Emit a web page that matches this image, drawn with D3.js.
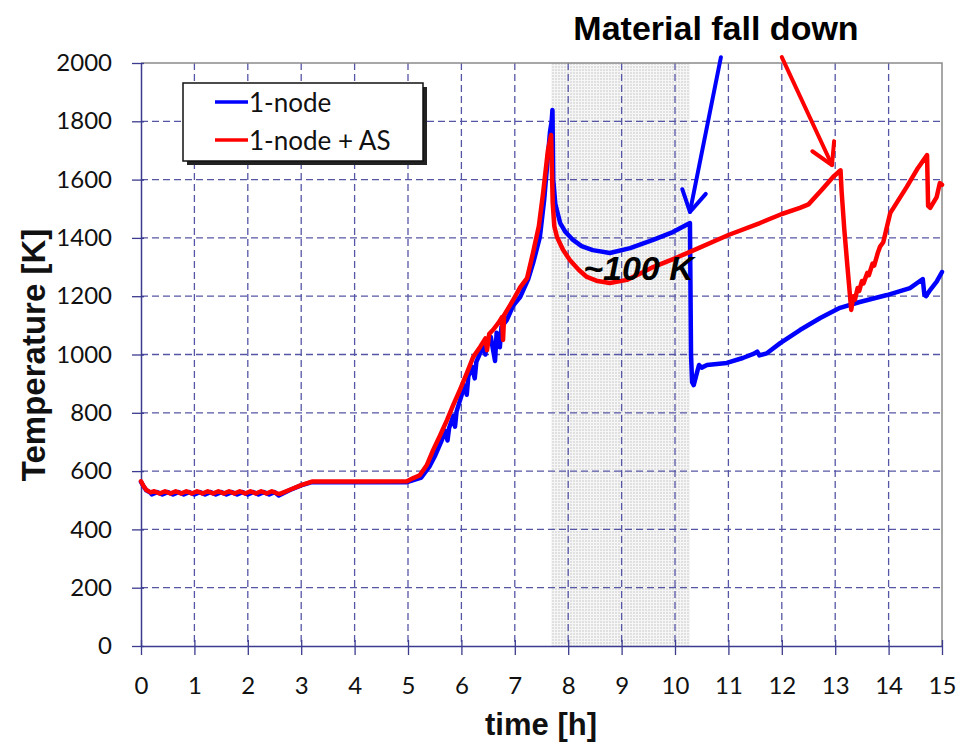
<!DOCTYPE html>
<html>
<head>
<meta charset="utf-8">
<script src="https://cdn.jsdelivr.net/npm/d3@7"></script>
<style>
  html, body { margin: 0; padding: 0; background: #fff; }
  svg { display: block; }
</style>
</head>
<body>
<svg id="chart" width="966" height="747"></svg>
<script>
// ---- data: time [h] / temperature [K] ----
const xTicks = [0,1,2,3,4,5,6,7,8,9,10,11,12,13,14,15];
const yTicks = [0,200,400,600,800,1000,1200,1400,1600,1800,2000];

// relocation window (shaded band), hours
const bandRange = [7.68, 10.28];

// 1-node
const blueSeries = [
  [0,563],[0.05,547],[0.1,534],[0.18,526],
  [0.2,520],[0.3,528],[0.4,520],[0.5,528],[0.6,520],[0.7,528],[0.8,520],[0.9,528],
  [1.0,520],[1.1,528],[1.2,520],[1.3,528],[1.4,520],[1.5,528],[1.6,520],[1.7,528],
  [1.8,520],[1.9,528],[2.0,520],[2.1,528],[2.2,520],[2.3,528],[2.4,520],[2.5,528],
  [2.58,516],[2.8,536],[3.0,551],[3.2,562],[4.0,562],[4.98,562],
  [5.1,569],[5.25,578],[5.4,615],[5.5,650],[5.62,700],[5.7,738],[5.74,705],[5.77,748],
  [5.85,790],[5.88,752],[5.91,805],[6.0,858],[6.05,895],[6.1,862],[6.13,925],[6.2,958],
  [6.25,918],[6.28,975],[6.35,1005],[6.4,1028],[6.45,1000],[6.48,1045],[6.55,1060],
  [6.63,978],[6.66,1075],[6.72,1025],[6.75,1095],[6.85,1118],[6.97,1168],[7.1,1197],
  [7.25,1258],[7.35,1318],[7.47,1403],[7.55,1530],[7.62,1680],[7.66,1765],[7.69,1800],
  [7.705,1839],[7.72,1600],[7.76,1515],[7.85,1451],[7.95,1420],[8.09,1393],[8.25,1372],
  [8.46,1358],[8.78,1348],[9.16,1365],[9.59,1393],[9.96,1420],[10.28,1451],
  [10.3,1000],[10.32,905],[10.35,895],[10.4,930],[10.45,964],[10.5,955],[10.6,964],
  [10.97,971],[11.27,988],[11.48,1003],[11.54,1010],[11.58,997],[11.72,1004],
  [11.97,1039],[12.34,1084],[12.72,1125],[13.09,1160],[13.46,1180],[13.97,1204],
  [14.4,1228],[14.64,1259],[14.67,1205],[14.7,1200],[14.78,1222],[14.9,1250],[15,1283]
];

// 1-node + AS
const redSeries = [
  [0,565],[0.05,548],[0.1,535],[0.18,527],
  [0.25,531],[0.35,523],[0.45,531],[0.55,523],[0.65,531],[0.75,523],[0.85,531],[0.95,523],
  [1.05,531],[1.15,523],[1.25,531],[1.35,523],[1.45,531],[1.55,523],[1.65,531],[1.75,523],
  [1.85,531],[1.95,523],[2.05,531],[2.15,523],[2.25,531],[2.35,523],[2.45,531],[2.55,523],
  [2.6,522],[2.8,537],[3.0,552],[3.2,564],[4.0,564],[4.98,565],
  [5.1,576],[5.22,586],[5.35,620],[5.47,672],[5.6,722],[5.73,775],[5.85,828],[5.97,878],
  [6.1,935],[6.22,991],[6.35,1026],[6.45,1055],[6.48,1015],[6.52,1070],[6.59,1084],
  [6.7,1110],[6.76,1128],[6.78,1050],[6.8,1135],[6.97,1187],[7.1,1230],[7.23,1262],
  [7.34,1348],[7.45,1440],[7.53,1554],[7.62,1700],[7.68,1753],[7.71,1520],[7.74,1440],
  [7.79,1403],[7.9,1360],[8.03,1324],[8.2,1290],[8.35,1266],[8.55,1252],[8.78,1245],
  [9.1,1256],[9.35,1278],[9.59,1300],[10.0,1330],[10.28,1352],[11.0,1410],[11.59,1451],
  [12.0,1482],[12.34,1503],[12.5,1515],[12.75,1565],[12.96,1609],[13.1,1632],
  [13.12,1560],[13.17,1430],[13.23,1300],[13.3,1153],[13.34,1200],[13.37,1188],
  [13.42,1228],[13.45,1218],[13.5,1252],[13.53,1244],[13.6,1280],[13.63,1272],
  [13.7,1312],[13.73,1305],[13.8,1350],[13.84,1370],[13.9,1385],[14.03,1485],
  [14.34,1575],[14.55,1640],[14.72,1684],[14.74,1510],[14.78,1503],[14.9,1540],
  [14.96,1588],[15,1582]
];

const legendLabels = ["1-node", "1-node + AS"];
const seriesColors = ["#0000ff", "#ff0000"];

// ---- layout ----
const svg = d3.select("#chart");
const plot = { left: 141, right: 942, top: 63, bottom: 646 };

const x = d3.scaleLinear().domain([0, 15]).range([plot.left, plot.right]);
const y = d3.scaleLinear().domain([0, 2000]).range([plot.bottom, plot.top]);

const axisColor = "#3b3b8f";
const gridColor = "#5656a6";

// shaded band pattern (fine dotted grey)
const defs = svg.append("defs");
const pat = defs.append("pattern")
  .attr("id", "dots").attr("width", 3).attr("height", 3)
  .attr("patternUnits", "userSpaceOnUse");
pat.append("rect").attr("width", 3).attr("height", 3).attr("fill", "#f6f6f6");
pat.append("rect").attr("width", 2).attr("height", 2).attr("fill", "#e0e0e0");

svg.append("rect")
  .attr("x", x(bandRange[0])).attr("y", plot.top)
  .attr("width", x(bandRange[1]) - x(bandRange[0]))
  .attr("height", plot.bottom - plot.top)
  .attr("fill", "url(#dots)");

// dashed grid
const grid = svg.append("g").attr("stroke", gridColor).attr("stroke-width", 1.3)
  .attr("stroke-dasharray", "7,4");
grid.selectAll("line.h").data(yTicks.filter(d => d > 0 && d < 2000)).join("line")
  .attr("x1", plot.left).attr("x2", plot.right)
  .attr("y1", d => y(d)).attr("y2", d => y(d));
grid.selectAll("line.v").data(xTicks.filter(d => d > 0 && d < 15)).join("line")
  .attr("y1", plot.top).attr("y2", plot.bottom)
  .attr("x1", d => x(d)).attr("x2", d => x(d));

// frame (top / right)
svg.append("path")
  .attr("d", `M${plot.left},${plot.top}H${plot.right}V${plot.bottom}`)
  .attr("fill", "none").attr("stroke", "#8a8a8a").attr("stroke-width", 1.5);

// axes
const tickFont = "Lato, 'Open Sans', sans-serif";
const xAxis = svg.append("g").attr("transform", `translate(0,${plot.bottom})`)
  .call(d3.axisBottom(x).tickValues(xTicks).tickFormat(d3.format("d"))
    .tickSize(9).tickSizeOuter(0).tickPadding(22));
const yAxis = svg.append("g").attr("transform", `translate(${plot.left},0)`)
  .call(d3.axisLeft(y).tickValues(yTicks).tickFormat(d3.format("d"))
    .tickSize(9).tickSizeOuter(0).tickPadding(20));

[xAxis, yAxis].forEach(g => {
  g.select(".domain").attr("stroke", axisColor).attr("stroke-width", 1.5);
  g.selectAll(".tick line").attr("stroke", axisColor).attr("stroke-width", 1.3);
  g.selectAll(".tick text").attr("fill", "#111").attr("font-family", tickFont)
    .attr("font-size", 24);
});
xAxis.selectAll(".tick line").attr("y1", -6);
yAxis.selectAll(".tick line").attr("x1", 3);

// series lines
const line = d3.line().x(d => x(d[0])).y(d => y(d[1]));
[blueSeries, redSeries].forEach((s, i) => {
  svg.append("path").datum(s)
    .attr("d", line)
    .attr("fill", "none")
    .attr("stroke", seriesColors[i])
    .attr("stroke-width", 4.5)
    .attr("stroke-linejoin", "round")
    .attr("stroke-linecap", "round");
});

// axis titles
const boldFont = "'Liberation Sans', Arial, sans-serif";
svg.append("text")
  .attr("x", 541).attr("y", 735)
  .attr("text-anchor", "middle")
  .attr("font-family", boldFont).attr("font-weight", "bold").attr("font-size", 31)
  .attr("fill", "#111")
  .text("time [h]");
svg.append("text")
  .attr("transform", "translate(45,355) rotate(-90)")
  .attr("text-anchor", "middle")
  .attr("font-family", boldFont).attr("font-weight", "bold").attr("font-size", 33)
  .attr("fill", "#111")
  .text("Temperature [K]");

// legend with drop shadow
const lg = svg.append("g");
lg.append("rect").attr("x", 187).attr("y", 87).attr("width", 240).attr("height", 78)
  .attr("fill", "#222");
lg.append("rect").attr("x", 183).attr("y", 83).attr("width", 240).attr("height", 78)
  .attr("fill", "#fff").attr("stroke", "#111").attr("stroke-width", 1.5);
legendLabels.forEach((lab, i) => {
  const yy = 102 + i * 38;
  lg.append("line").attr("x1", 215).attr("x2", 248).attr("y1", yy).attr("y2", yy)
    .attr("stroke", seriesColors[i]).attr("stroke-width", 3.5);
  lg.append("text").attr("x", 249).attr("y", yy + 10)
    .attr("font-family", tickFont).attr("font-size", 26).attr("fill", "#111")
    .text(lab);
});

// annotations
svg.append("text")
  .attr("x", 716).attr("y", 40)
  .attr("text-anchor", "middle")
  .attr("font-family", boldFont).attr("font-weight", "bold").attr("font-size", 34)
  .attr("fill", "#000")
  .text("Material fall down");

svg.append("text")
  .attr("x", x(8.28)).attr("y", y(1256))
  .attr("font-family", boldFont).attr("font-weight", "bold").attr("font-style", "italic")
  .attr("font-size", 34).attr("fill", "#000")
  .text("~100 K");

// arrows: [start, tip] in data units
const arrows = [
  { from: [10.86, 2020], to: [10.28, 1489], color: "#0000ff" },
  { from: [12.0, 2020], to: [12.94, 1650], color: "#ff0000" }
];
arrows.forEach(a => {
  const x0 = x(a.from[0]), y0 = y(a.from[1]);
  const x1 = x(a.to[0]), y1 = y(a.to[1]);
  const ang = Math.atan2(y0 - y1, x0 - x1);
  const L = 24, spread = Math.PI / 6;
  const p1 = [x1 + L * Math.cos(ang - spread), y1 + L * Math.sin(ang - spread)];
  const p2 = [x1 + L * Math.cos(ang + spread), y1 + L * Math.sin(ang + spread)];
  const g = svg.append("g").attr("stroke", a.color).attr("stroke-width", 4)
    .attr("fill", "none").attr("stroke-linecap", "round").attr("stroke-linejoin", "round");
  g.append("line").attr("x1", x0).attr("y1", y0).attr("x2", x1).attr("y2", y1);
  g.append("path").attr("d", `M${p1[0]},${p1[1]}L${x1},${y1}L${p2[0]},${p2[1]}`);
});
</script>
</body>
</html>
